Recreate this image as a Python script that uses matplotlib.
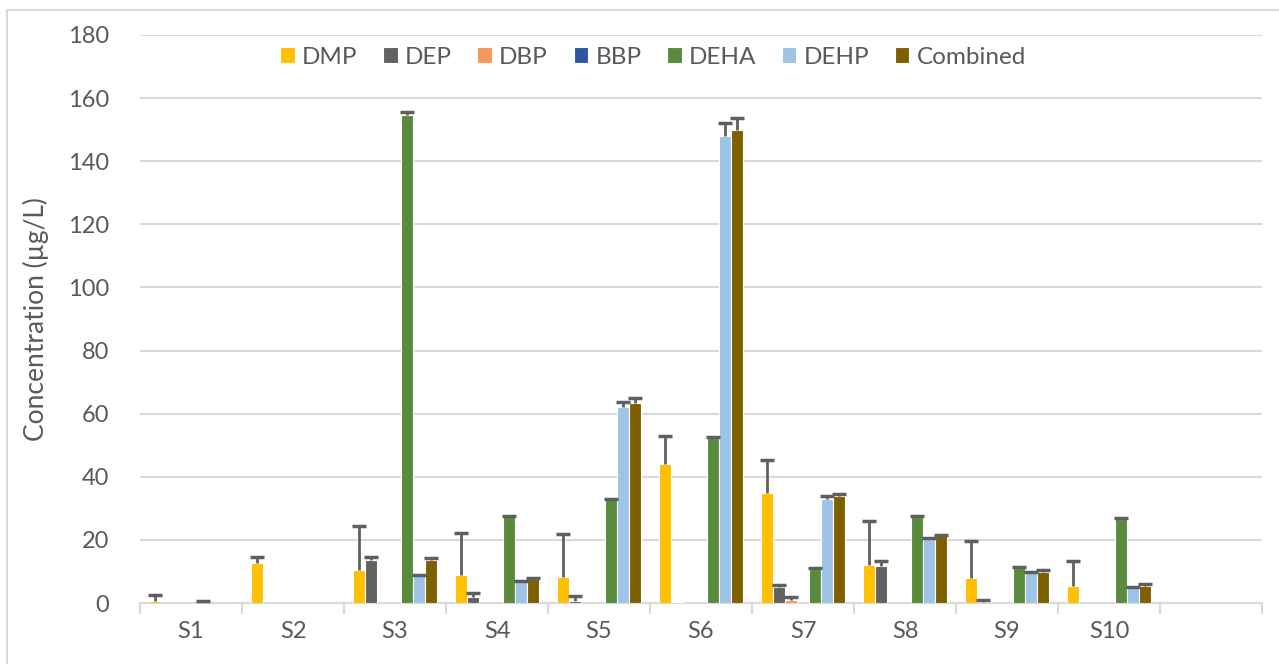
import numpy as np
import matplotlib.pyplot as plt

# --------------------------
# Data
# --------------------------
sites = ["S1", "S2", "S3", "S4", "S5", "S6", "S7", "S8", "S9", "S10", ""]
series = ["DMP", "DEP", "DBP", "BBP", "DEHA", "DEHP", "Combined"]
colors = ["#FFC000", "#626262", "#F4985A", "#2F55A4", "#5A8A3C", "#9DC3E6", "#7F6000"]

dmp      = [0.7, 12.7, 10.5, 9.0, 8.3, 44.1, 34.9, 12.1, 8.0, 5.3, 0]
dmp_top  = [2.6, 14.5, 24.5, 22.2, 22.0, 53.0, 45.4, 25.9, 19.5, 13.2, 0]
dep      = [0, 0, 13.7, 1.8, 0.5, 0.3, 5.1, 11.6, 0.3, 0, 0]
dep_top  = [0, 0, 14.5, 3.1, 2.3, 0.3, 5.8, 13.4, 1.1, 0, 0]
dbp      = [0, 0, 0, 0, 0, 0, 1.1, 0, 0, 0, 0]
dbp_top  = [0, 0, 0, 0, 0, 0, 1.9, 0, 0, 0, 0]
bbp      = [0, 0, 0, 0, 0, 0, 0, 0, 0, 0, 0]
bbp_top  = [0, 0, 0, 0, 0, 0, 0, 0, 0, 0, 0]
deha     = [0.2, 0, 154.6, 27.5, 32.5, 52.4, 10.8, 27.1, 11.0, 26.5, 0]
deha_top = [0.5, 0, 155.5, 27.7, 32.9, 52.7, 11.1, 27.6, 11.4, 26.8, 0]
dehp     = [0, 0, 8.4, 6.6, 62.1, 148.1, 33.0, 20.2, 9.6, 4.6, 0]
dehp_top = [0, 0, 8.9, 7.0, 63.8, 152.0, 33.9, 20.5, 9.9, 5.0, 0]
comb     = [0, 0, 13.7, 7.7, 63.3, 149.9, 33.9, 21.4, 9.9, 5.5, 0]
comb_top = [0, 0, 14.3, 7.9, 65.0, 153.8, 34.7, 21.7, 10.3, 5.9, 0]

values = [dmp, dep, dbp, bbp, deha, dehp, comb]
tops = [dmp_top, dep_top, dbp_top, bbp_top, deha_top, dehp_top, comb_top]

plt.rcParams['font.family'] = ['Lato', 'DejaVu Sans']
txt = "#595959"
grid = "#d9d9d9"
ecol = "#5f5f5f"

fig = plt.figure(figsize=(12.79, 6.64), dpi=100)
ax = fig.add_axes([140/1279, 1-603/664, (1262-140)/1279, (603-35)/664])

x = np.arange(len(sites))
slot = 12/102

for i, (name, v, t, c) in enumerate(zip(series, values, tops, colors)):
    v = np.array(v, dtype=float)
    t = np.array(t, dtype=float)
    pos = x + (i - 3) * slot
    ax.bar(pos, v, width=slot, color=c, edgecolor="white", linewidth=0.8,
           label=name, zorder=3)
    # plus-only error bars, as in the original
    m = (t - v) > 0
    ax.vlines(pos[m], v[m], t[m], color=ecol, lw=2, zorder=4)
    ax.plot(pos[m], t[m], ls="none", marker="_", ms=10, mew=2.5, color=ecol, zorder=4)

ax.set_xlim(-0.5, len(sites) - 0.5)
ax.set_ylim(0, 180)
ax.set_yticks(np.arange(0, 181, 20))
ax.yaxis.grid(True, color=grid, linewidth=1.5, zorder=0)
ax.set_axisbelow(True)

ax.set_xticks(x)
ax.set_xticklabels(sites)
ax.set_xticks(np.arange(-0.5, len(sites)), minor=True)
ax.tick_params(axis="x", which="major", length=0, pad=13, labelsize=17, labelcolor=txt)
ax.tick_params(axis="x", which="minor", length=8, width=1.5, color=grid)
ax.tick_params(axis="y", length=0, pad=22, labelsize=17, labelcolor=txt)

for s in ["left", "right", "top"]:
    ax.spines[s].set_visible(False)
ax.spines["bottom"].set_color(grid)
ax.spines["bottom"].set_linewidth(1.5)

ax.set_ylabel("Concentration (µg/L)", fontsize=19, color=txt, labelpad=14)

fig.legend(loc="center", bbox_to_anchor=(653/1279, 1-57/664), ncol=7, frameon=False,
           fontsize=17.5, handlelength=0.6, handleheight=0.6, handletextpad=0.3,
           columnspacing=1.05, labelcolor=txt)

# chart frame (left and top edges visible in the reference)
fig.add_artist(plt.Line2D([7/1279, 7/1279], [0, 1-10/664], color=grid, lw=1.5))
fig.add_artist(plt.Line2D([7/1279, 1], [1-10/664, 1-10/664], color=grid, lw=1.5))

fig.savefig("out.png", dpi=100)
